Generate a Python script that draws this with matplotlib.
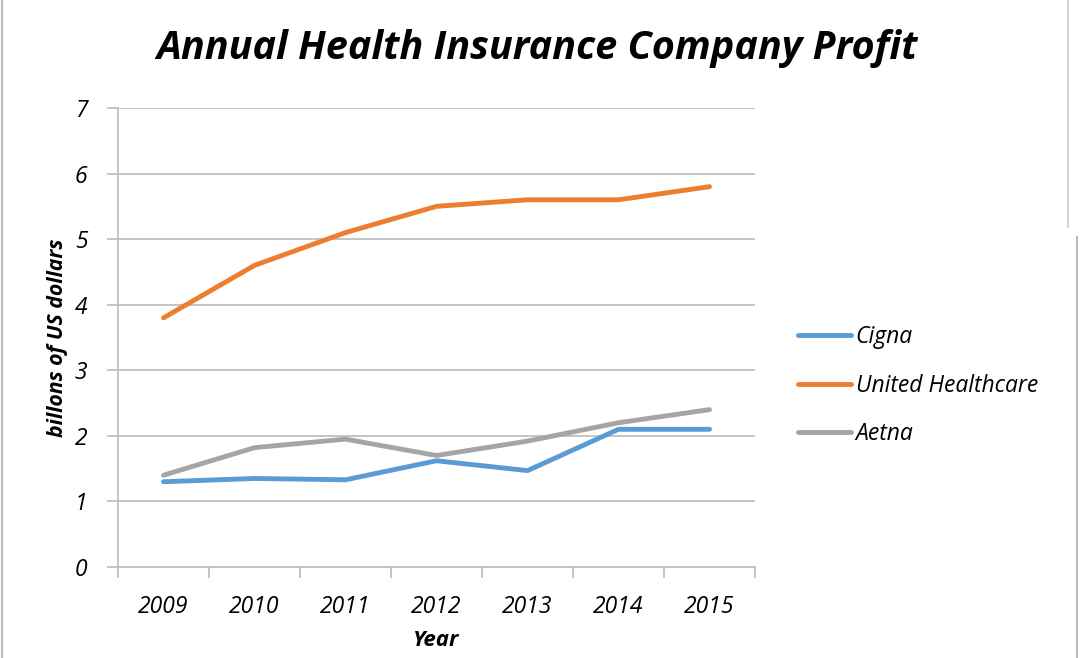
import numpy as np
import matplotlib
matplotlib.use('Agg')
from matplotlib import pyplot as plt
from matplotlib.lines import Line2D

plt.rcParams['font.family'] = ['Open Sans', 'DejaVu Sans']

# Data
years = ['2009', '2010', '2011', '2012', '2013', '2014', '2015']
cigna = [1.3, 1.35, 1.33, 1.62, 1.47, 2.1, 2.1]
united = [3.8, 4.6, 5.1, 5.5, 5.6, 5.6, 5.8]
aetna = [1.4, 1.82, 1.95, 1.7, 1.92, 2.2, 2.4]
series_names = ['Cigna', 'United Healthcare', 'Aetna']
colors = ['#5B9BD5', '#ED7D31', '#A5A5A5']

fig = plt.figure(figsize=(10.8, 6.58), dpi=100)
ax = fig.add_axes([0.1093, 0.1383, 0.5898, 0.6976])

x = np.arange(len(years))
for vals, name, c in zip([cigna, united, aetna], series_names, colors):
    ax.plot(x, vals, color=c, lw=3.5, label=name, solid_capstyle='round', zorder=3)

ax.set_xlim(-0.5, len(years) - 0.5)
ax.set_ylim(0, 7)
ax.set_yticks(range(0, 8))
ax.yaxis.grid(True, color='#BFBFBF', lw=1.3)
ax.set_axisbelow(True)

# category ticks between years
ax.set_xticks(np.arange(-0.5, len(years)), minor=False)
ax.set_xticklabels([])
ax.set_xticks(x, minor=True)
ax.set_xticklabels(years, minor=True, fontsize=16.5, style='italic')
ax.tick_params(axis='x', which='major', length=8, color='#BFBFBF', width=1.3, direction='out')
ax.tick_params(axis='x', which='minor', length=0, pad=20)
ax.tick_params(axis='y', length=8, color='#BFBFBF', width=1.3, pad=14, labelsize=16.5)
for lab in ax.get_yticklabels():
    lab.set_style('italic')

for s in ['top', 'right']:
    ax.spines[s].set_visible(False)
ax.spines['left'].set_color('#BFBFBF')
ax.spines['bottom'].set_color('#BFBFBF')
ax.spines['left'].set_linewidth(1.3)
ax.spines['bottom'].set_linewidth(1.3)

ax.set_xlabel('Year', fontsize=16, fontweight='bold', style='italic', labelpad=8)
ax.set_ylabel('billons of US dollars', fontsize=15.3, fontweight='bold', style='italic', labelpad=5)

fig.text(0.497, 0.927, 'Annual Health Insurance Company Profit', fontsize=28.5,
         fontweight='bold', style='italic', ha='center', va='center')

leg = fig.legend(loc='center left', bbox_to_anchor=(0.72, 0.414), frameon=False,
                 handlelength=2.3, handletextpad=0.2, labelspacing=1.08,
                 prop={'style': 'italic', 'size': 16.5})

# screenshot edge lines
fig.add_artist(Line2D([0.002, 0.002], [0, 1], color='#BBBBBB', lw=1.5))
fig.add_artist(Line2D([0.9975, 0.9975], [0, 0.64], color='#BBBBBB', lw=1.5))
fig.add_artist(Line2D([0.989, 0.989], [0.655, 1], color='#CCCCCC', lw=1.2))

fig.savefig('out.png', dpi=100)
